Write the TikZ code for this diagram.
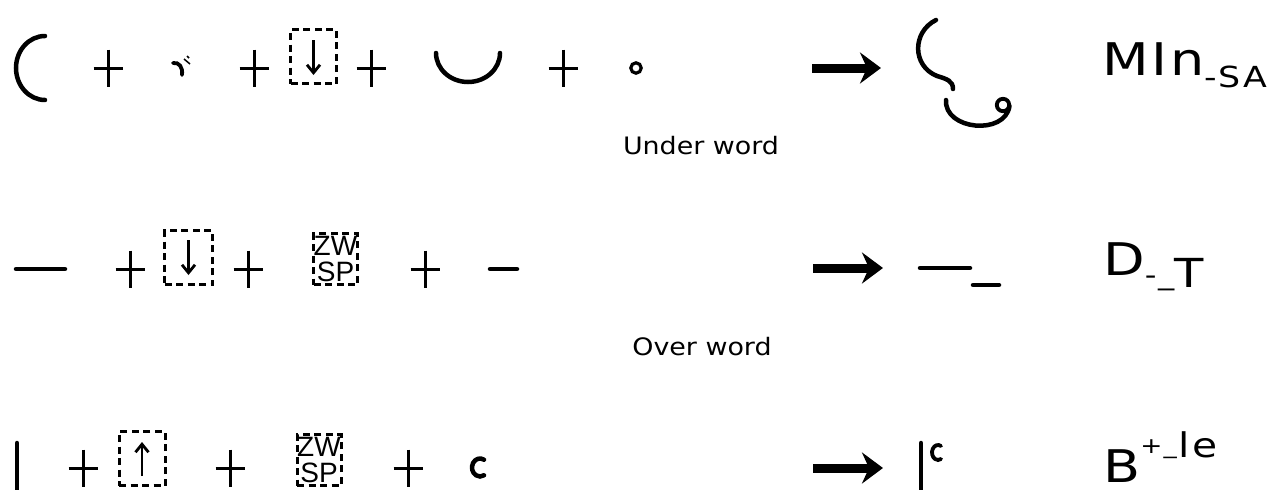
\documentclass[tikz,border=0pt]{standalone}
\usepackage{fontspec}
\usepackage{tikz}
\usetikzlibrary{arrows.meta,positioning}
\newfontfamily\labelfont[FakeStretch=1.2,LetterSpace=6]{DejaVu Sans}
\newfontfamily\notefont[FakeStretch=1.12]{DejaVu Sans}
\newfontfamily\zwfont{Liberation Sans}

\begin{document}
\begin{tikzpicture}[
		x=1pt,y=-1pt,
		glyph/.style={line width=4.5pt,line cap=round},
		plusline/.style={line width=3pt},
		dashbox/.style={
			draw,
			dash pattern=on 7pt off 4.5pt,
			line width=3pt,
			inner sep=0pt
		},
		arrowbox/.style={dashbox,minimum width=46pt,minimum height=54pt},
		zwbox/.style={
			dashbox,
			minimum width=44pt,
			minimum height=51pt,
			align=center,
			font=\zwfont\fontsize{28}{26}\selectfont
		},
		boxarrow/.style={line width=2.8pt,-{Straight Barb[length=8pt,width=13pt]}},
		bigarrow/.style={line width=9pt,-{Stealth[length=21pt,width=31pt,inset=7pt]}},
		lbl/.style={font=\labelfont\fontsize{45}{50}\selectfont,inner sep=0pt,anchor=base west},
		note/.style={font=\notefont\fontsize{24}{28}\selectfont,inner sep=0pt}
		]
		
		\useasboundingbox (0,0) rectangle (1280,490);
		
		\foreach \px/\py in {108/68,254/68,371/68,563/68,130/269,248/269,425/269,83/468,230/468,408/468}
		\draw[plusline] ({\px-14.5},\py) -- ({\px+14.5},\py) (\px,{\py-18.5}) -- (\px,{\py+18.5});
		
		% under word
		\draw[glyph] (45,36) arc[start angle=90,end angle=270,x radius=29pt,y radius=32pt];
		\draw[glyph,line width=3.8pt] (173,63) .. controls (179,62) and (183,67) .. (182,75);
		\draw[line width=1.5pt] (184,59) -- (190,64);
		\draw[line width=1.5pt] (187,56) -- (189,58);
		\node[arrowbox]
		(down1) at (313.5,56.5)
		{};
		\draw[boxarrow] ([yshift=-12pt]down1.north) -- ([yshift=10pt]down1.south);
		\draw[glyph] (436,53) arc[start angle=180,end angle=360,x radius=32pt,y radius=29pt];
		\draw[line width=3.2pt] (636,68) circle[radius=5.2pt];
		
		\coordinate (s1) at (812,68);
		\coordinate (e1) at (881,68);
		\draw[bigarrow] (s1) -- (e1);
		
		\draw[glyph] (936,20) .. controls (912,32) and (912,66) .. (937,76) .. controls (947,79) and (953,81) .. (953,89);
		\draw[glyph] (946,100) .. controls (944,130) and (1005,136) .. (1009.5,106);
		\draw[line width=3.8pt] (1003,105) circle[radius=6.2pt];
		
		\node[lbl]
		(res1) at (1102,75)
		{MIn\raisebox{-12pt}{\fontsize{29}{32}\selectfont -SA}};
		
		\node[note]
		(under) at (701,146)
		{Under word};
		
		% over word
		\draw[glyph] (16,269) -- (65,269);
		\node[arrowbox,minimum width=48pt]
		(down2) at (188.5,257.5)
		{};
		\draw[boxarrow] ([yshift=-11pt]down2.north) -- ([yshift=11pt]down2.south);
		\node[zwbox]
		(zw2) at (335.5,259)
		{ZW\\SP};
		\draw[glyph] (490,269) -- (517,269);
		
		\coordinate (s2) at (813,268);
		\coordinate (e2) at (883,268);
		\draw[bigarrow] (s2) -- (e2);
		
		\draw[glyph] (920,268) -- (970,268);
		\draw[glyph] (973,285) -- (999,285);
		
		\node[lbl]
		(res2) at (1103,275)
		{D\raisebox{-9pt}{\fontsize{27}{30}\selectfont -\_}\raisebox{-12pt}{\fontsize{40}{44}\selectfont T}};
		
		\node[note]
		(over) at (702,347)
		{Over word};
		
		% third row
		\draw[glyph] (17,443) -- (17,492);
		\node[arrowbox]
		(up3) at (142,458.5)
		{};
		\draw[boxarrow] ([yshift=11pt]up3.south) -- ([yshift=-12pt]up3.north);
		\node[zwbox]
		(zw3) at (319,460)
		{ZW\\SP};
		\draw[glyph] (484,459.7) arc[start angle=60,end angle=300,x radius=8pt,y radius=9pt];
		
		\coordinate (s3) at (813,468);
		\coordinate (e3) at (883,468);
		\draw[bigarrow] (s3) -- (e3);
		
		\draw[glyph] (921,443) -- (921,492);
		\draw[glyph,line width=3.8pt] (941,446) arc[start angle=60,end angle=300,x radius=6pt,y radius=7.5pt];
		
		\node[lbl]
		(res3) at (1103,482)
		{B\raisebox{29pt}{\fontsize{22}{24}\selectfont +\_}\raisebox{25pt}{\fontsize{34}{36}\selectfont\hspace{2pt}le}};
		
	\end{tikzpicture}
\end{document}
